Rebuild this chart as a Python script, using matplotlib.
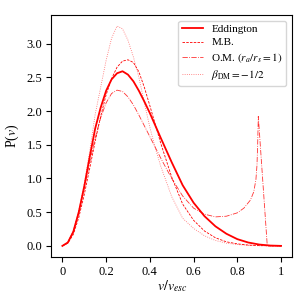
import matplotlib
matplotlib.use("Agg")
import matplotlib.pyplot as plt
from matplotlib.ticker import FuncFormatter

plt.rcParams.update({"font.family": "serif", "font.serif": ["Liberation Serif", "DejaVu Serif"],
                     "mathtext.fontset": "stix", "font.size": 9})

# speed distributions (v in units of v_esc)
v_edd = [0, 0.025, 0.05, 0.075, 0.1, 0.125, 0.15, 0.175, 0.2, 0.225, 0.25, 0.275, 0.3, 0.325, 0.35,
         0.375, 0.4, 0.45, 0.5, 0.55, 0.6, 0.65, 0.7, 0.75, 0.8, 0.85, 0.9, 0.95, 1.0]
p_edd = [0, 0.05, 0.21, 0.50, 0.88, 1.32, 1.74, 2.05, 2.30, 2.47, 2.56, 2.59, 2.54, 2.44, 2.30,
         2.14, 1.97, 1.60, 1.24, 0.90, 0.64, 0.44, 0.29, 0.18, 0.10, 0.05, 0.02, 0.005, 0]

v_mb = [0, 0.025, 0.05, 0.075, 0.1, 0.125, 0.15, 0.175, 0.2, 0.225, 0.25, 0.275, 0.3, 0.325, 0.35,
        0.375, 0.4, 0.425, 0.45, 0.5, 0.55, 0.6, 0.65, 0.7, 0.75, 0.8, 0.85, 0.9, 1.0]
p_mb = [0, 0.04, 0.17, 0.42, 0.76, 1.15, 1.55, 1.92, 2.24, 2.48, 2.65, 2.74, 2.76, 2.72, 2.58,
        2.35, 2.08, 1.80, 1.52, 1.02, 0.62, 0.38, 0.22, 0.12, 0.06, 0.03, 0.012, 0.004, 0]

v_om = [0, 0.025, 0.05, 0.075, 0.1, 0.125, 0.15, 0.175, 0.2, 0.225, 0.25, 0.275, 0.3, 0.325, 0.35,
        0.375, 0.4, 0.45, 0.5, 0.55, 0.6, 0.65, 0.7, 0.75, 0.8, 0.83, 0.86, 0.875, 0.885, 0.89,
        0.893, 0.896, 0.937, 1.0]
p_om = [0, 0.05, 0.21, 0.50, 0.86, 1.24, 1.60, 1.90, 2.12, 2.26, 2.31, 2.29, 2.21, 2.09, 1.94,
        1.78, 1.62, 1.30, 1.00, 0.74, 0.56, 0.47, 0.43, 0.44, 0.49, 0.56, 0.68, 0.80, 0.98, 1.20,
        1.50, 1.92, 0, 0]

v_beta = [0, 0.025, 0.05, 0.075, 0.1, 0.125, 0.15, 0.175, 0.2, 0.225, 0.25, 0.275, 0.3, 0.325, 0.35,
          0.375, 0.4, 0.425, 0.45, 0.5, 0.55, 0.6, 0.65, 0.7, 0.75, 0.8, 0.85, 0.9, 1.0]
p_beta = [0, 0.05, 0.22, 0.52, 0.92, 1.40, 1.95, 2.35, 2.75, 3.08, 3.26, 3.22, 3.05, 2.80, 2.50,
          2.12, 1.76, 1.45, 1.18, 0.73, 0.41, 0.26, 0.15, 0.08, 0.04, 0.02, 0.008, 0.002, 0]

fig = plt.figure(figsize=(3.08, 3.08), dpi=100)
ax = fig.add_axes([0.167, 0.166, 0.781, 0.785])
ax.plot(v_edd, p_edd, "-", color="red", lw=1.3, label="Eddington")
ax.plot(v_mb, p_mb, "--", color="red", lw=0.6, dashes=(3, 1.5), label="M.B.")
ax.plot(v_om, p_om, "-.", color="red", lw=0.6, alpha=0.8, label=r"O.M. $(r_a/r_s = 1)$")
ax.plot(v_beta, p_beta, ":", color="red", lw=0.6, alpha=0.6, label=r"$\beta_{\rm DM}=-1/2$")

ax.set_xticks([0, 0.2, 0.4, 0.6, 0.8, 1.0])
ax.xaxis.set_major_formatter(FuncFormatter(lambda x, _: f"{x:g}"))
ax.set_yticks([0, 0.5, 1.0, 1.5, 2.0, 2.5, 3.0])
ax.tick_params(labelsize=9, length=3.5, pad=3)
ax.set_xlabel(r"$v/v_{esc}$", fontsize=10, labelpad=0)
ax.set_ylabel(r"P($v$)", fontsize=10)
ax.legend(loc="upper right", fontsize=8, handlelength=1.9, handletextpad=0.7, labelspacing=0.3,
          borderpad=0.35)

fig.savefig("out.png", dpi=100)
